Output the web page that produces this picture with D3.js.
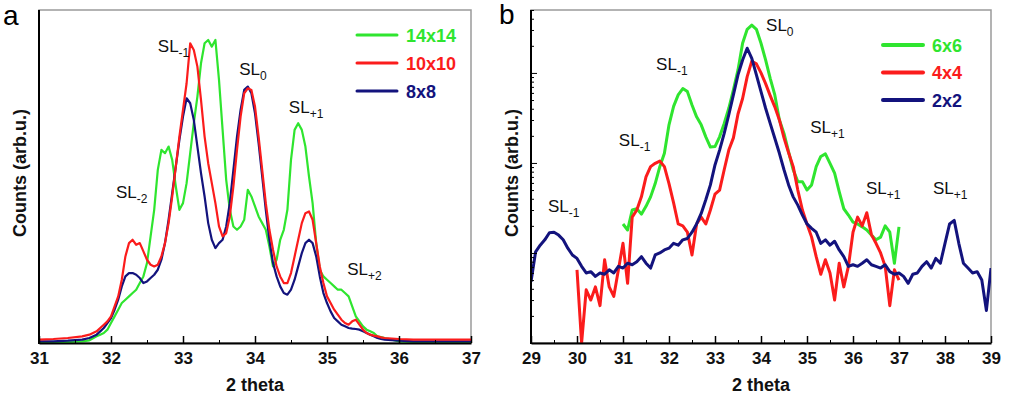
<!DOCTYPE html>
<html>
<head>
<meta charset="utf-8">
<script src="https://cdn.jsdelivr.net/npm/d3@7"></script>
<style>
body { margin: 0; background: #fff; }
svg { display: block; font-family: "Liberation Sans", Arial, Helvetica, sans-serif; }
</style>
</head>
<body>
<div class="chart"></div>
<script>
// panel a : 2 theta grid + counts (linear, arb.u.)
var thetaA = [31, 31.2, 31.4, 31.6, 31.7,
    31.8, 31.85, 31.9, 31.95,
    32, 32.05, 32.1, 32.15, 32.2, 32.25, 32.3, 32.35, 32.4, 32.45, 32.5, 32.55, 32.6, 32.65, 32.7, 32.75, 32.8, 32.85, 32.9, 32.95,
    33, 33.05, 33.1, 33.15, 33.2, 33.25, 33.3, 33.35, 33.4, 33.45, 33.5, 33.55, 33.6, 33.65, 33.7, 33.75, 33.8, 33.85, 33.9, 33.95,
    34, 34.05, 34.1, 34.15, 34.2, 34.25, 34.3, 34.35, 34.4, 34.45, 34.5, 34.55, 34.6, 34.65, 34.7, 34.75, 34.8, 34.85, 34.9, 34.95,
    35, 35.05, 35.1, 35.15, 35.2, 35.25, 35.3, 35.35, 35.4, 35.45, 35.5, 35.55, 35.6, 35.65, 35.7, 35.75, 35.8,
    36, 36.2, 36.4, 36.6, 36.8, 37];

var counts14x14 = [0.3, 0.3, 0.3, 0.5, 0.8,
    2, 2.5, 3, 4,
    6, 8, 10, 12, 13, 14, 15, 16, 18, 20, 24, 32, 40, 52, 58, 57, 59, 55, 47, 40,
    42, 48, 57, 66, 74, 84, 90, 91, 89, 91, 79, 64, 49, 40, 35, 34, 35, 37, 46, 44,
    41, 38, 36, 34, 29, 23, 25, 31, 34, 40, 55, 64, 66, 64, 59, 50, 42, 30, 22, 20,
    19, 18, 17, 16, 16, 15, 14, 11, 8, 6.5, 5, 4, 3.5, 3, 2, 1.8, 1.5,
    0.5, 0.3, 0.3, 0.3, 0.3, 0.3];

var counts10x10 = [1, 1.2, 1.5, 2, 2.5,
    3.5, 4.5, 5.5, 6.5,
    8, 11, 14, 19, 26, 30, 31, 29.5, 30, 27.5, 25, 23.5, 23, 23.5, 26, 30, 36, 44, 53, 62,
    70, 78, 90, 88, 83, 73, 62, 54, 48, 42, 35, 32, 33, 38, 47, 58, 68, 75, 76.5, 76,
    71, 62, 52, 42, 34, 28, 23, 20, 18, 18, 21, 26, 31, 36, 39, 39.5, 37, 30, 23, 18,
    14, 12, 10, 8.5, 7, 6, 5.5, 6.5, 7, 5.5, 4, 3, 2.5, 2.2, 2, 1.7, 1.5,
    1.2, 1, 1, 1, 1, 1];

var counts8x8 = [0.5, 0.5, 0.7, 1, 1.5,
    2.5, 3.5, 4.5, 6,
    7.5, 10, 13, 17, 20, 21, 21, 20.5, 19.5, 18, 18.5, 19.5, 20.5, 22, 25, 30, 37, 45, 53, 61,
    68, 73.5, 72, 67, 59, 51, 44, 36, 31, 28.5, 30, 31, 35, 42, 52, 62, 70, 76, 77, 75,
    69, 60, 50, 40, 31, 24, 20, 17, 15, 14.5, 16, 19, 23, 27, 30, 31, 30, 26, 20, 15,
    12, 9.5, 7.5, 6.5, 5.5, 5, 4.5, 4.3, 4.2, 4, 3.5, 3, 2.5, 2, 1.5, 1.2, 1,
    0.7, 0.5, 0.5, 0.5, 0.5, 0.5];

// panel b : 2 theta grid + counts (log axis)
var thetaB = [29, 29.1, 29.2, 29.3, 29.4, 29.5, 29.6, 29.7, 29.8, 29.9,
    30, 30.1, 30.2, 30.3, 30.4, 30.5, 30.6, 30.7, 30.8, 30.9,
    31, 31.1, 31.2, 31.3, 31.4, 31.5, 31.6, 31.7, 31.8, 31.9,
    32, 32.1, 32.2, 32.3, 32.4, 32.5, 32.6, 32.7, 32.8, 32.9,
    33, 33.1, 33.2, 33.3, 33.4, 33.5, 33.6, 33.7, 33.8, 33.9,
    34, 34.1, 34.2, 34.3, 34.4, 34.5, 34.6, 34.7, 34.8, 34.9,
    35, 35.1, 35.2, 35.3, 35.4, 35.5, 35.6, 35.7, 35.8, 35.9,
    36, 36.1, 36.2, 36.3, 36.4, 36.5, 36.6, 36.7, 36.8, 36.9,
    37, 37.1, 37.2, 37.3, 37.4, 37.5, 37.6, 37.7, 37.8, 37.9,
    38, 38.1, 38.2, 38.3, 38.4, 38.5, 38.6, 38.7, 38.8, 38.9,
    39];

var counts6x6 = [null, null, null, null, null, null, null, null, null, null,
    null, null, null, null, null, null, null, null, null, null,
    21, 18, 30, 31, 27, 33, 42, 59, 91, 128,
    265, 425, 570, 670, 620, 440, 325, 265, 195, 150,
    152, 195, 275, 405, 650, 1080, 2136, 3050, 3400, 3050,
    2136, 1394, 870, 570, 300, 213, 133, 84, 62, 62,
    50, 57, 91, 118, 126, 99, 77, 48, 31, 26.4,
    22, 21, 19.5, 18, 15.8, 14, 15, 20, 17, 7.7,
    19.5, null, null, null, null, null, null, null, null, null,
    null, null, null, null, null, null, null, null, null, null,
    null];

var counts4x4 = [null, null, null, null, null, null, null, null, null, null,
    6.5, 1, 3.9, 3, 4.2, 2.6, 8.4, 4.2, 3.3, 6.5,
    12.8, 4.6, 25, 30, 42, 70, 91, 99, 105, 91,
    59, 36, 21, 20, 17, 9.5, 21, 25, 21, 30,
    45, 50, 84, 139, 190, 350, 520, 910, 1350, 1260,
    1000, 760, 560, 420, 300, 190, 130, 91, 50, 30,
    21, 15, 9.1, 5.8, 8.4, 6, 3, 7.7, 4.2, 7.1,
    17, 25, 20, 28, 16, 12.8, 10, 7.1, 2.6, 6.5,
    5, null, null, null, null, null, null, null, null, null,
    null, null, null, null, null, null, null, null, null, null,
    null];

var counts2x2 = [4.8, 10.3, 12.2, 14, 16.8, 17, 15.8, 14, 11.3, 9.5,
    8.7, 7.1, 6, 6.2, 5.5, 6, 5.8, 6.5, 6, 7.1,
    6.8, 7.7, 7.4, 8, 9.1, 7.7, 6.8, 9.5, 10, 10.8,
    11.3, 12.8, 12.2, 14, 14.5, 17, 21, 27.5, 39, 57,
    95, 139, 213, 343, 570, 950, 1394, 1880, 1450, 950,
    620, 405, 275, 188, 128, 84, 57, 42, 34, 26.4,
    21, 18.8, 17, 12.8, 14, 12.2, 13.5, 10.8, 9.1, 7.1,
    7.4, 7.1, 7.7, 8.4, 7.4, 7.1, 6.8, 7.4, 6.2, 5.8,
    6, 5.5, 4.6, 5.8, 6, 7.1, 8, 6.8, 8.7, 7.7,
    12.8, 21, 23, 12.8, 7.7, 6.8, 6, 6.2, 5, 2.3,
    6.8];

var legendA = ['14x14', '10x10', '8x8'];
var legendB = ['6x6', '4x4', '2x2'];
var ticksA = [31, 32, 33, 34, 35, 36, 37];
var ticksB = [29, 30, 31, 32, 33, 34, 35, 36, 37, 38, 39];

var Chart = {
    width: 1014,
    height: 400,
    top: 10,
    bottom: 343,
    colors: ['#2fe52f', '#fb1c1c', '#13137d'],
    svg: '',
    init: function () {
        this.svg = d3.select('.chart').append('svg')
            .attr('width', this.width)
            .attr('height', this.height);

        var a = this.panel({
            id: 'a', left: 39, right: 471, domain: [31, 37], ticks: ticksA,
            y: d3.scaleLinear().domain([0, 100]).range([this.bottom, this.top]),
            theta: thetaA, series: [counts14x14, counts8x8, counts10x10],
            colorIdx: [0, 2, 1], lineWidth: 2.2
        });
        this.legend(357, 35, 28, legendA, 3);
        this.letter('a', 3, 25);
        this.notes(a, [
            {s: '-1', t: 32.65, v: 87.4},
            {s: '0', t: 33.78, v: 80.5},
            {s: '+1', t: 34.47, v: 69},
            {s: '-2', t: 32.07, v: 43.5},
            {s: '+2', t: 35.28, v: 20.4}
        ]);

        var b = this.panel({
            id: 'b', left: 531, right: 991, domain: [29, 39], ticks: ticksB,
            y: d3.scaleLog().domain([1, 5000]).range([this.bottom, this.top]),
            theta: thetaB, series: [counts6x6, counts4x4, counts2x2],
            colorIdx: [0, 1, 2], lineWidth: 3, logTicks: true
        });
        this.legend(883, 45, 27.5, legendB, 4);
        this.letter('b', 499, 24);
        this.notes(b, [
            {s: '0', t: 34.11, v: 2930},
            {s: '-1', t: 31.72, v: 1080},
            {s: '-1', t: 30.91, v: 154},
            {s: '+1', t: 35.07, v: 215},
            {s: '+1', t: 36.28, v: 45},
            {s: '+1', t: 37.74, v: 45},
            {s: '-1', t: 29.37, v: 28.5}
        ]);
    },
    panel: function (cfg) {
        var self = this;
        var x = d3.scaleLinear().domain(cfg.domain).range([cfg.left, cfg.right]);
        var y = cfg.y;
        var g = this.svg.append('g');

        g.append('clipPath').attr('id', 'clip-' + cfg.id)
            .append('rect')
            .attr('x', cfg.left).attr('y', this.top)
            .attr('width', cfg.right - cfg.left).attr('height', this.bottom - this.top);

        // frame: grey top/right, black axes
        g.append('rect')
            .attr('x', cfg.left).attr('y', this.top)
            .attr('width', cfg.right - cfg.left).attr('height', this.bottom - this.top)
            .attr('fill', 'none').attr('stroke', '#9a9a9a').attr('stroke-width', 1.5);

        var line = d3.line()
            .defined(function (d) { return d[1] != null; })
            .x(function (d) { return x(d[0]); })
            .y(function (d) { return y(d[1]); });

        cfg.series.forEach(function (vals, i) {
            var pts = cfg.theta.map(function (t, j) { return [t, vals[j]]; });
            g.append('path')
                .attr('clip-path', 'url(#clip-' + cfg.id + ')')
                .attr('d', line(pts))
                .attr('fill', 'none')
                .attr('stroke', self.colors[cfg.colorIdx[i]])
                .attr('stroke-width', cfg.lineWidth)
                .attr('stroke-linejoin', 'round');
        });

        // x axis
        var halves = [];
        for (var k = cfg.domain[0]; k < cfg.domain[1]; k++) halves.push(k + 0.5);
        g.append('g')
            .attr('transform', 'translate(0,' + this.bottom + ')')
            .call(d3.axisBottom(x).tickValues(halves).tickSize(-3).tickFormat(''))
            .call(function (s) { s.select('.domain').remove(); });
        var xa = g.append('g')
            .attr('transform', 'translate(0,' + this.bottom + ')')
            .call(d3.axisBottom(x).tickValues(cfg.ticks).tickSizeInner(-7).tickSizeOuter(0).tickPadding(9).tickFormat(d3.format('d')));
        xa.select('.domain').attr('stroke-width', 2);
        xa.selectAll('line').attr('stroke-width', 1.5);
        xa.selectAll('text')
            .attr('font-family', '"Liberation Sans", Arial, sans-serif')
            .attr('font-size', 17).attr('font-weight', 'bold').attr('fill', '#111');

        // y axis
        var ya = g.append('g').attr('transform', 'translate(' + cfg.left + ',0)');
        if (cfg.logTicks) {
            var minor = [];
            [1, 10, 100, 1000].forEach(function (d) {
                for (var m = 2; m <= 9; m++) if (d * m <= 5000) minor.push(d * m);
            });
            ya.append('g').call(d3.axisLeft(y).tickValues(minor).tickSize(-3).tickFormat(''))
                .call(function (s) { s.select('.domain').remove(); });
            ya.append('g').call(d3.axisLeft(y).tickValues([10, 100, 1000]).tickSize(-6).tickFormat(''))
                .call(function (s) { s.select('.domain').remove(); });
        }
        ya.append('line')
            .attr('y1', this.top).attr('y2', this.bottom + 1)
            .attr('stroke', '#000').attr('stroke-width', 2);

        g.append('text')
            .attr('x', (cfg.left + cfg.right) / 2).attr('y', 391)
            .attr('text-anchor', 'middle')
            .attr('font-size', 18).attr('font-weight', 'bold').attr('fill', '#111')
            .text('2 theta');
        g.append('text')
            .attr('transform', 'translate(' + (cfg.left - 13) + ',173) rotate(-90)')
            .attr('text-anchor', 'middle')
            .attr('font-size', 18).attr('font-weight', 'bold').attr('fill', '#111')
            .text('Counts (arb.u.)');

        return {x: x, y: y, g: g};
    },
    legend: function (x0, y0, step, names, width) {
        var self = this;
        names.forEach(function (name, i) {
            var yy = y0 + i * step;
            self.svg.append('line')
                .attr('x1', x0).attr('x2', x0 + 40)
                .attr('y1', yy).attr('y2', yy)
                .attr('stroke', self.colors[i]).attr('stroke-width', width)
                .attr('stroke-linecap', 'round');
            self.svg.append('text')
                .attr('x', x0 + 49).attr('y', yy + 6.5)
                .attr('font-size', 18).attr('font-weight', 'bold')
                .attr('fill', self.colors[i])
                .text(name);
        });
    },
    letter: function (txt, x, y) {
        this.svg.append('text')
            .attr('x', x).attr('y', y)
            .attr('font-size', 28).attr('fill', '#000')
            .text(txt);
    },
    notes: function (p, list) {
        list.forEach(function (n) {
            var t = p.g.append('text')
                .attr('x', p.x(n.t)).attr('y', p.y(n.v))
                .attr('font-size', 17).attr('fill', '#111');
            t.append('tspan').text('SL');
            t.append('tspan').attr('dy', 5).attr('font-size', 12).text(n.s);
        });
    }
};

Chart.init();
</script>
</body>
</html>
